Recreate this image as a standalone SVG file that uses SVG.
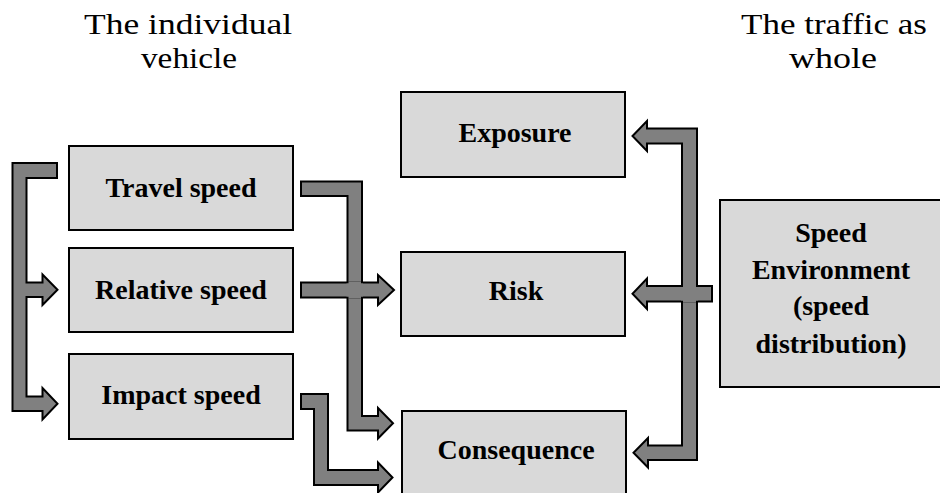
<svg xmlns="http://www.w3.org/2000/svg" width="940" height="493" viewBox="0 0 940 493">
<style>
.box{fill:#d9d9d9;stroke:#000;stroke-width:2}
.arr{fill:#808080;stroke:#000;stroke-width:2;stroke-linejoin:miter}
.er{fill:#808080;stroke:none}
.lbl{font-family:"Liberation Serif","Times New Roman",serif;font-size:28px;font-weight:bold;text-anchor:middle;fill:#000}
.ttl{font-family:"Liberation Serif","Times New Roman",serif;font-size:29px;text-anchor:middle;fill:#000}
</style>
<rect width="940" height="493" fill="#fff"/>
<g id="title-left"><text class="ttl" x="188" y="34" textLength="208" lengthAdjust="spacingAndGlyphs">The individual</text><text class="ttl" x="189" y="68" textLength="96" lengthAdjust="spacingAndGlyphs">vehicle</text></g>
<g id="title-right"><text class="ttl" x="834" y="34" textLength="186" lengthAdjust="spacingAndGlyphs">The traffic as</text><text class="ttl" x="833" y="68" textLength="88" lengthAdjust="spacingAndGlyphs">whole</text></g>
<g id="travel"><rect class="box" x="69" y="146" width="224" height="84"/><text class="lbl" x="181" y="197">Travel speed</text></g>
<g id="relative"><rect class="box" x="69" y="248" width="224" height="84"/><text class="lbl" x="181" y="299">Relative speed</text></g>
<g id="impact"><rect class="box" x="69" y="354" width="224" height="85"/><text class="lbl" x="181" y="404">Impact speed</text></g>
<g id="exposure"><rect class="box" x="401" y="92" width="224" height="85"/><text class="lbl" x="515" y="142">Exposure</text></g>
<g id="risk"><rect class="box" x="401" y="252" width="224" height="84"/><text class="lbl" x="516" y="300">Risk</text></g>
<g id="consequence"><rect class="box" x="402" y="411" width="224" height="95"/><text class="lbl" x="516" y="459">Consequence</text></g>
<g id="speed-env"><rect class="box" x="720" y="200" width="222" height="187"/>
<text class="lbl" x="831" y="242">Speed</text><text class="lbl" x="831" y="279">Environment</text><text class="lbl" x="831" y="315">(speed</text><text class="lbl" x="831" y="353">distribution)</text></g>
<g id="connectors">
<path class="arr" d="M57,163 L12.5,163 L12.5,411 L42.5,411 L42.5,419.5 L57.5,403.75 L42.5,388 L42.5,396.5 L26.5,396.5 L26.5,297 L42.5,297 L42.5,305 L57.5,289.75 L42.5,274.5 L42.5,282.5 L26.5,282.5 L26.5,178 L57,178 Z"/>
<path class="arr" d="M301,181.5 L362,181.5 L362,416 L378,416 L378,408 L393,423.25 L378,438.5 L378,430.5 L347.5,430.5 L347.5,196 L301,196 Z"/>
<path class="arr" d="M301,282.5 L378,282.5 L378,275 L394,290 L378,305 L378,297.5 L301,297.5 Z"/>
<rect class="er" x="348.5" y="281.5" width="12.5" height="17"/>
<rect class="er" x="346.5" y="283.5" width="16.5" height="13"/>
<path class="arr" d="M301,394 L328,394 L328,470 L378,470 L378,462.5 L392.5,477.5 L378,492.5 L378,485 L314,485 L314,409 L301,409 Z"/>
<path class="arr" d="M697,128.5 L697,460 L648,460 L648,467.5 L633.5,452.75 L648,438 L648,445.5 L682,445.5 L682,143.5 L647,143.5 L647,151 L632.5,136 L647,121 L647,128.5 Z"/>
<path class="arr" d="M712,286 L712,301.5 L647,301.5 L647,309 L632.5,293.75 L647,278.5 L647,286 Z"/>
<rect class="er" x="683" y="285" width="13" height="17.5"/>
<rect class="er" x="681" y="287" width="17" height="13.5"/>
</g>
</svg>
